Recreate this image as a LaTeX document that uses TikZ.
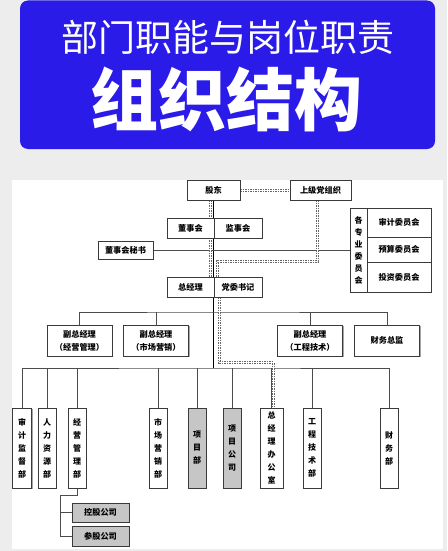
\documentclass[tikz,border=0pt]{standalone}
\usepackage{fontspec}
\newfontfamily\cjk{Noto Sans CJK SC}
\definecolor{banner}{HTML}{2A1BE8}
\definecolor{paper}{HTML}{EDEDED}
\definecolor{boxline}{HTML}{3A3A3A}
\usetikzlibrary{positioning, shadows, backgrounds}

\tikzset{
  orgbox/.style={draw=boxline, line width=0.6pt, fill=white, inner sep=0pt, outer sep=0pt,
    align=center, font=\cjk\bfseries\fontsize{8.2}{13}\selectfont,
    drop shadow={shadow xshift=1.2pt, shadow yshift=-1.2pt, fill=gray!70, opacity=1}},
  deptbox/.style={orgbox, minimum height=80pt, font=\cjk\bfseries\fontsize{8}{13}\selectfont},
  link/.style={draw=gray!60!black, line width=0.6pt},
  mainlink/.style={draw=black, line width=0.9pt},
  partylink/.style={draw=black!60, line width=0.7pt, double=white, double distance=1.3pt,
    dash pattern=on 1.5pt off 1pt},
}

\begin{document}
\begin{tikzpicture}[x=1pt, y=-1pt]
  \useasboundingbox (0,0) rectangle (447,551);
  \begin{scope}[on background layer]
    \fill[paper] (0,0) rectangle (447,551);
    \fill[white] (12,180) rectangle (443,549);
  \end{scope}

  % banner
  \fill[banner, rounded corners=8pt] (20,0.5) rectangle (435,149);
  \node[font=\cjk\fontsize{37}{37}\selectfont, text=white] (subtitle) at (227.5,37) {部门职能与岗位职责};
  \node[font=\cjk\bfseries\fontsize{68}{68}\selectfont, text=white] (title) at (226.5,99) {组织结构};

  % board level
  \node[orgbox, minimum width=53pt, minimum height=20pt] (gudong) at (213.5,190) {股东};
  \node[orgbox, minimum width=61pt, minimum height=20pt] (shangji) at (320.5,190) {上级党组织};
  \node[orgbox, minimum width=47pt, minimum height=20pt] (dongshi) at (190.5,228) {董事会};
  \node[orgbox, minimum width=48pt, minimum height=20pt, right=0pt of dongshi] (jianshi) {监事会};
  \node[orgbox, minimum width=55pt, minimum height=18pt] (mishu) at (125.5,250) {董事会秘书};
  \node[orgbox, minimum width=17pt, minimum height=84pt, font=\cjk\bfseries\fontsize{8}{12}\selectfont] (zhuanye) at (358.5,250) {各\\专\\业\\委\\员\\会};
  \node[orgbox, minimum width=64pt, minimum height=29pt, anchor=north west] (shenjiwei) at (zhuanye.north east) {审计委员会};
  \node[orgbox, minimum width=64pt, minimum height=25pt, below=0pt of shenjiwei] (yusuanwei) {预算委员会};
  \node[orgbox, minimum width=64pt, minimum height=30pt, below=0pt of yusuanwei] (touziwei) {投资委员会};
  \node[orgbox, minimum width=47pt, minimum height=20pt] (zongjingli) at (190.5,287) {总经理};
  \node[orgbox, minimum width=48pt, minimum height=20pt, right=0pt of zongjingli] (dangwei) {党委书记};

  % deputies
  \foreach \n/\x/\t in {fujy/79.5/{副总经理\\（经营管理）}, fusc/156/{副总经理\\（市场营销）},
      fugc/310/{副总经理\\（工程技术）}, caiwuzj/387/{财务总监}}
    \node[orgbox, minimum width=65pt, minimum height=31pt] (\n) at (\x,340.5) {\t};

  % departments
  \foreach \n/\x/\w/\fc/\t in {
    shenji/22/19/white/{审\\计\\监\\督\\部},
    renli/47/18/white/{人\\力\\资\\源\\部},
    jingying/77/18/white/{经\\营\\管\\理\\部},
    shichang/158/18/white/{市\\场\\营\\销\\部},
    xiangmu/197/18/gray!45/{项\\目\\部},
    xmgongsi/232/18/gray!45/{项\\目\\公\\司},
    zongban/271.5/23/white/{总\\经\\理\\办\\公\\室},
    gongcheng/312/18/white/{工\\程\\技\\术\\部},
    caiwu/389/18/white/{财\\务\\部}}
    \node[deptbox, minimum width=\w pt, fill=\fc] (\n) at (\x,448) {\t};

  \node[orgbox, fill=gray!45, minimum width=57pt, minimum height=19pt] (konggu) at (100.5,512.5) {控股公司};
  \node[orgbox, fill=gray!45, minimum width=57pt, minimum height=20pt] (cangu) at (100.5,536) {参股公司};

  % connectors
  \begin{scope}[on background layer]
    \coordinate (dbus) at (213.5,312);
    \coordinate (bus) at (213.5,368);
    \draw[mainlink] (gudong.south) -- (bus);
    \draw[link] (mishu.east) -- (zhuanye.west);
    \draw[link] (fujy.north) |- (dbus) -| (caiwuzj.north);
    \foreach \n in {fusc, fugc}
      \draw[link] (\n.north) -- (\n.north |- dbus);
    \draw[link] (shenji.north) |- (bus) -| (caiwu.north);
    \foreach \n in {renli, jingying, shichang, xiangmu, xmgongsi, zongban, gongcheng}
      \draw[link] (\n.north) -- (\n.north |- bus);
    \coordinate (fork) at (60,495);
    \draw[link] (jingying.south) |- (fork) |- (cangu.west);
    \draw[link] (fork |- konggu.west) -- (konggu.west);
    % party lines
    \coordinate (party) at (217.5,261.5);
    \coordinate (office) at (219.5,362.5);
    \draw[partylink] ([yshift=-0.5pt]gudong.east) -- ([yshift=-0.5pt]shangji.west);
    \draw[partylink] ([xshift=-3pt]gudong.south) -- ([xshift=-3pt]gudong.south |- zongjingli.north);
    \draw[partylink] ([xshift=-3pt]shangji.south) |- (party) -- (party |- zongjingli.north);
    \draw[partylink] (office |- zongjingli.south) -- (office) -| ([xshift=2pt]zongban.north);
  \end{scope}
\end{tikzpicture}
\end{document}
